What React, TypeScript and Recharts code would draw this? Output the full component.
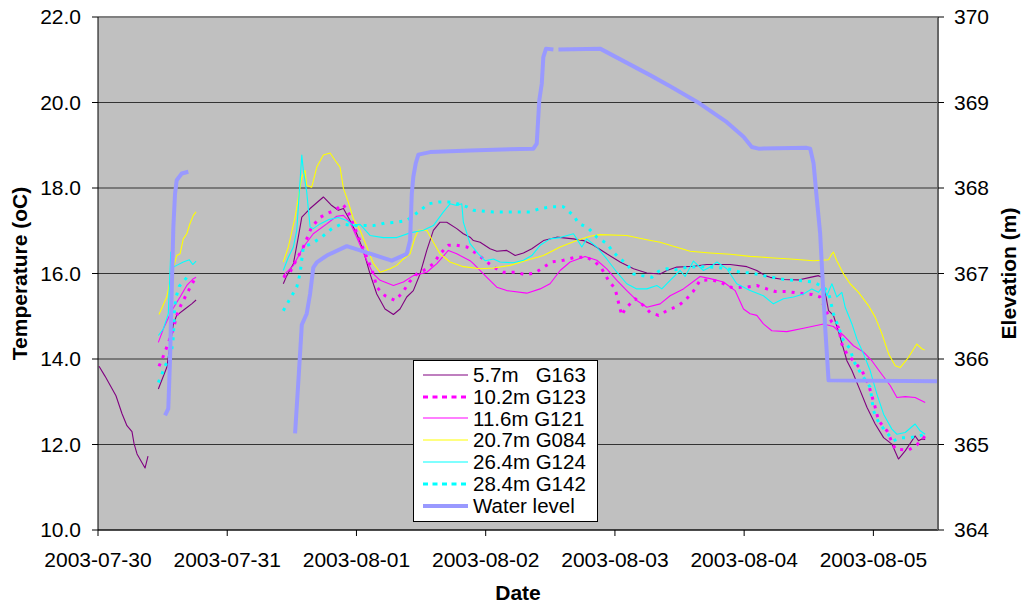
import { CartesianGrid, Legend, Line, LineChart, ReferenceLine, XAxis, YAxis } from "recharts";

// time axis: days after 2003-07-30 00:00
const dateLabels = ["2003-07-30", "2003-07-31", "2003-08-01", "2003-08-02", "2003-08-03", "2003-08-04", "2003-08-05"];
const dayTicks = [0, 1, 2, 3, 4, 5, 6];
const tempTicks = [10, 12, 14, 16, 18, 20, 22];
const elevTicks = [364, 365, 366, 367, 368, 369, 370];

type Pt = [number, number | null];

const g163: Pt[] = [
  [0.008, 13.83], [0.054, 13.6], [0.139, 13.14], [0.186, 12.72], [0.224, 12.44], [0.263, 12.3], [0.279, 12.02],
  [0.302, 11.78], [0.364, 11.45], [0.387, 11.73], [0.42, null],
  [0.467, 13.3], [0.532, 13.8], [0.583, 14.82], [0.609, 15.02], [0.673, 15.17], [0.725, 15.29], [0.759, 15.38], [1.0, null],
  [1.434, 15.76], [1.455, 15.91], [1.512, 16.23], [1.55, 16.85], [1.577, 17.32], [1.641, 17.52], [1.744, 17.79],
  [1.809, 17.59], [1.86, 17.48], [1.899, 17.52], [1.95, 17.24], [2.002, 16.93], [2.053, 16.54], [2.105, 15.99],
  [2.157, 15.52], [2.221, 15.17], [2.286, 15.04], [2.337, 15.17], [2.389, 15.45], [2.44, 15.6], [2.492, 15.99],
  [2.544, 16.54], [2.595, 17.01], [2.647, 17.2], [2.699, 17.2], [2.776, 17.05], [2.827, 16.93], [2.879, 16.85],
  [2.905, 16.77], [2.957, 16.73], [3.034, 16.58], [3.086, 16.52], [3.163, 16.54], [3.228, 16.42], [3.292, 16.48],
  [3.357, 16.58], [3.447, 16.77], [3.55, 16.85], [3.679, 16.81], [3.756, 16.77], [3.834, 16.66], [3.937, 16.46],
  [4.04, 16.27], [4.144, 16.11], [4.247, 16.01], [4.35, 15.99], [4.402, 16.07], [4.479, 16.15], [4.608, 16.17],
  [4.711, 16.21], [4.892, 16.21], [5.021, 16.16], [5.098, 16.07], [5.162, 15.95], [5.201, 15.91], [5.304, 15.86],
  [5.42, 15.85], [5.511, 15.91], [5.575, 15.95], [5.601, 15.91], [5.627, 15.56], [5.653, 15.13], [5.691, 15.02],
  [5.743, 14.51], [5.795, 13.96], [5.834, 13.73], [5.898, 13.26], [5.95, 12.87], [6.014, 12.48], [6.079, 12.16],
  [6.143, 12.01], [6.194, 11.66], [6.246, 11.85], [6.323, 12.2], [6.349, 12.09], [6.375, 12.13], [6.401, 12.12],
];

const g123: Pt[] = [
  [0.472, 13.83], [0.513, 14.12], [0.583, 14.7], [0.609, 15.02], [0.64, 15.25], [0.691, 15.55], [0.745, 15.85], [1.0, null],
  [1.434, 15.91], [1.486, 16.03], [1.538, 16.34], [1.589, 16.62], [1.654, 17.09], [1.718, 17.31], [1.77, 17.4],
  [1.834, 17.48], [1.894, 17.62], [1.93, 17.48], [1.964, 17.24], [2.015, 16.85], [2.08, 16.38], [2.131, 15.99],
  [2.157, 15.68], [2.221, 15.48], [2.299, 15.37], [2.358, 15.56], [2.409, 15.8], [2.467, 15.99], [2.544, 16.11],
  [2.595, 16.23], [2.647, 16.46], [2.711, 16.66], [2.776, 16.66], [2.854, 16.62], [2.931, 16.46], [3.06, 16.15],
  [3.137, 16.03], [3.241, 16.03], [3.305, 15.97], [3.382, 16.01], [3.434, 16.12], [3.512, 16.27], [3.601, 16.31],
  [3.692, 16.38], [3.782, 16.38], [3.847, 16.27], [3.898, 16.11], [3.95, 15.84], [4.002, 15.64], [4.027, 15.33],
  [4.053, 15.02], [4.079, 15.17], [4.156, 15.41], [4.221, 15.25], [4.272, 15.09], [4.337, 15.02], [4.402, 15.13],
  [4.492, 15.25], [4.543, 15.37], [4.608, 15.59], [4.659, 15.84], [4.75, 15.85], [4.814, 15.8], [4.905, 15.67],
  [5.021, 15.68], [5.098, 15.72], [5.176, 15.64], [5.24, 15.58], [5.33, 15.58], [5.42, 15.54], [5.524, 15.51],
  [5.588, 15.45], [5.64, 15.09], [5.679, 14.86], [5.73, 14.74], [5.756, 14.35], [5.795, 14.12], [5.846, 13.96],
  [5.911, 13.73], [5.962, 13.41], [6.014, 12.87], [6.04, 12.56], [6.105, 12.32], [6.169, 11.89], [6.272, 11.87],
  [6.336, 11.99], [6.401, 12.2],
];

const g121: Pt[] = [
  [0.467, 14.39], [0.505, 14.7], [0.57, 15.13], [0.635, 15.45], [0.687, 15.72], [0.738, 15.88], [0.759, 15.91], [1.0, null],
  [1.434, 15.95], [1.512, 16.19], [1.589, 16.62], [1.666, 16.93], [1.77, 17.16], [1.847, 17.34], [1.899, 17.36],
  [1.95, 17.2], [2.002, 16.85], [2.08, 16.3], [2.131, 15.99], [2.183, 15.84], [2.286, 15.72], [2.363, 15.8],
  [2.44, 15.95], [2.544, 16.03], [2.622, 16.23], [2.711, 16.54], [2.776, 16.46], [2.879, 16.3], [2.905, 16.23],
  [3.009, 15.91], [3.086, 15.68], [3.163, 15.6], [3.318, 15.54], [3.421, 15.64], [3.498, 15.76], [3.576, 16.07],
  [3.653, 16.27], [3.769, 16.4], [3.86, 16.31], [3.937, 16.11], [4.015, 15.84], [4.092, 15.6], [4.169, 15.37],
  [4.247, 15.21], [4.35, 15.29], [4.427, 15.48], [4.53, 15.64], [4.659, 15.93], [4.737, 15.88], [4.84, 15.8],
  [4.93, 15.6], [4.995, 15.17], [5.046, 15.06], [5.098, 15.02], [5.149, 14.82], [5.214, 14.66], [5.33, 14.64],
  [5.459, 14.72], [5.614, 14.82], [5.691, 14.76], [5.769, 14.55], [5.846, 14.31], [5.924, 14.16], [5.988, 13.96],
  [6.053, 13.69], [6.13, 13.38], [6.182, 13.1], [6.246, 13.12], [6.323, 13.1], [6.401, 12.98],
];

const g084: Pt[] = [
  [0.472, 15.04], [0.532, 15.45], [0.563, 15.91], [0.609, 16.42], [0.635, 16.46], [0.66, 16.81], [0.687, 16.93],
  [0.712, 17.17], [0.738, 17.36], [0.759, 17.44], [1.0, null],
  [1.434, 16.27], [1.473, 16.62], [1.525, 17.32], [1.577, 18.26], [1.602, 18.41], [1.615, 18.06], [1.654, 18.02],
  [1.693, 18.49], [1.744, 18.77], [1.796, 18.82], [1.834, 18.65], [1.873, 18.49], [1.899, 17.99], [1.937, 17.67],
  [1.976, 17.28], [2.028, 17.01], [2.08, 16.62], [2.131, 16.23], [2.183, 16.03], [2.26, 16.11], [2.312, 16.19],
  [2.363, 16.34], [2.415, 16.46], [2.454, 16.85], [2.479, 17.01], [2.544, 17.01], [2.595, 16.73], [2.647, 16.46],
  [2.724, 16.27], [2.827, 16.16], [2.957, 16.11], [3.06, 16.13], [3.189, 16.19], [3.318, 16.31], [3.447, 16.42],
  [3.576, 16.62], [3.705, 16.77], [3.808, 16.87], [3.885, 16.91], [4.092, 16.89], [4.247, 16.79], [4.35, 16.73],
  [4.427, 16.66], [4.582, 16.52], [4.737, 16.48], [4.892, 16.45], [5.046, 16.4], [5.201, 16.37], [5.356, 16.34],
  [5.537, 16.3], [5.653, 16.32], [5.679, 16.46], [5.691, 16.5], [5.717, 16.3], [5.769, 15.99], [5.82, 15.76],
  [5.885, 15.56], [5.962, 15.25], [6.014, 14.98], [6.066, 14.59], [6.118, 14.12], [6.169, 13.84], [6.207, 13.8],
  [6.272, 14.04], [6.336, 14.35], [6.375, 14.24], [6.396, 14.21],
];

const g124: Pt[] = [
  [0.467, 14.55], [0.505, 14.7], [0.544, 15.06], [0.563, 16.5], [0.583, 16.15], [0.609, 16.19], [0.66, 16.27],
  [0.707, 16.32], [0.733, 16.21], [0.759, 16.29], [1.0, null],
  [1.434, 16.07], [1.473, 16.38], [1.512, 16.62], [1.538, 17.01], [1.577, 18.77], [1.589, 18.41], [1.615, 17.91],
  [1.641, 17.09], [1.666, 17.05], [1.718, 17.16], [1.783, 17.26], [1.86, 17.31], [1.925, 17.24], [1.976, 17.12],
  [2.028, 17.15], [2.105, 16.89], [2.208, 16.84], [2.312, 16.84], [2.415, 16.95], [2.518, 17.01], [2.595, 17.12],
  [2.673, 17.44], [2.724, 17.63], [2.776, 17.59], [2.815, 17.63], [2.827, 17.2], [2.879, 16.7], [2.943, 16.46],
  [2.995, 16.3], [3.06, 16.34], [3.111, 16.27], [3.214, 16.25], [3.292, 16.31], [3.357, 16.42], [3.421, 16.66],
  [3.498, 16.81], [3.576, 16.84], [3.679, 16.93], [3.705, 16.81], [3.744, 16.62], [3.782, 16.81], [3.86, 16.62],
  [3.937, 16.34], [4.015, 16.03], [4.092, 15.76], [4.169, 15.64], [4.247, 15.64], [4.324, 15.72], [4.363, 15.64],
  [4.427, 15.84], [4.505, 16.07], [4.543, 15.93], [4.608, 16.29], [4.685, 16.07], [4.737, 16.15], [4.789, 16.27],
  [4.866, 16.11], [4.943, 15.76], [5.046, 15.6], [5.149, 15.48], [5.226, 15.29], [5.304, 15.41], [5.382, 15.45],
  [5.459, 15.52], [5.524, 15.64], [5.575, 15.56], [5.614, 15.72], [5.64, 15.48], [5.679, 15.76], [5.717, 15.45],
  [5.756, 15.56], [5.782, 15.21], [5.834, 14.82], [5.872, 14.47], [5.924, 14.12], [5.975, 13.73], [6.027, 13.18],
  [6.079, 12.71], [6.143, 12.36], [6.182, 12.24], [6.246, 12.28], [6.323, 12.48], [6.362, 12.32], [6.401, 12.24],
];

const g142: Pt[] = [
  [0.467, 13.45], [0.532, 13.92], [0.57, 14.2], [0.583, 14.51], [0.591, 15.09], [0.601, 15.42], [0.629, 15.7],
  [0.699, 15.95], [0.712, 16.0], [1.0, null],
  [1.434, 15.13], [1.486, 15.41], [1.538, 15.68], [1.563, 15.99], [1.589, 16.62], [1.654, 16.7], [1.731, 16.85],
  [1.809, 17.05], [1.886, 17.16], [1.976, 17.12], [2.053, 17.12], [2.131, 17.12], [2.221, 17.18], [2.312, 17.2],
  [2.389, 17.24], [2.479, 17.44], [2.557, 17.63], [2.634, 17.67], [2.711, 17.67], [2.763, 17.65], [2.854, 17.56],
  [2.905, 17.48], [3.06, 17.44], [3.241, 17.44], [3.344, 17.44], [3.421, 17.52], [3.512, 17.56], [3.601, 17.56],
  [3.679, 17.36], [3.717, 17.18], [3.795, 17.06], [3.86, 16.85], [3.937, 16.7], [3.988, 16.5], [4.04, 16.34],
  [4.092, 16.23], [4.144, 15.99], [4.208, 15.95], [4.286, 15.91], [4.337, 16.05], [4.402, 16.11], [4.466, 16.09],
  [4.569, 16.15], [4.646, 16.16], [4.737, 16.15], [4.827, 16.13], [4.905, 16.09], [4.969, 16.03], [5.059, 16.01],
  [5.149, 15.95], [5.24, 15.9], [5.33, 15.85], [5.408, 15.84], [5.537, 15.8], [5.614, 15.68], [5.653, 15.56],
  [5.691, 15.06], [5.73, 14.74], [5.769, 14.43], [5.82, 14.24], [5.846, 13.96], [5.898, 13.69], [5.975, 13.34],
  [6.001, 12.79], [6.04, 12.52], [6.092, 12.32], [6.156, 12.09], [6.22, 12.16], [6.285, 12.16], [6.349, 12.2],
  [6.401, 12.24],
];

// elevation (m), right axis
const waterLevel: Pt[] = [
  [0.519, 365.34], [0.544, 365.42], [0.557, 365.98], [0.57, 366.76], [0.583, 367.54], [0.596, 367.93],
  [0.609, 368.09], [0.648, 368.17], [0.699, 368.19], [1.0, null],
  [1.525, 365.13], [1.553, 365.8], [1.577, 366.4], [1.615, 366.53], [1.641, 366.76], [1.666, 367.07],
  [1.693, 367.13], [1.77, 367.21], [1.925, 367.32], [2.028, 367.27], [2.273, 367.15], [2.389, 367.23],
  [2.415, 367.39], [2.428, 367.93], [2.44, 368.13], [2.459, 368.29], [2.479, 368.39], [2.57, 368.42],
  [2.879, 368.44], [3.369, 368.46], [3.395, 368.52], [3.415, 369.03], [3.434, 369.22], [3.446, 369.53],
  [3.467, 369.63], [3.524, 369.62], [3.54, null], [3.563, 369.62], [3.885, 369.63], [4.272, 369.32],
  [4.427, 369.19], [4.634, 369.01], [4.866, 368.77], [4.995, 368.6], [5.059, 368.48], [5.111, 368.46],
  [5.485, 368.47], [5.511, 368.46], [5.537, 368.29], [5.563, 367.86], [5.588, 367.47], [5.627, 366.37],
  [5.653, 365.75], [6.5, 365.74],
];

const series = [
  { key: "g163", name: "5.7m   G163", pts: g163, color: "#800080", width: 1.1, dash: undefined, legendDash: undefined, axis: "left" },
  { key: "g123", name: "10.2m G123", pts: g123, color: "#FF00FF", width: 3, dash: "3 6", legendDash: "5 4.5", axis: "left" },
  { key: "g121", name: "11.6m G121", pts: g121, color: "#FF00FF", width: 1.1, dash: undefined, legendDash: undefined, axis: "left" },
  { key: "g084", name: "20.7m G084", pts: g084, color: "#FFFF00", width: 1.1, dash: undefined, legendDash: undefined, axis: "left" },
  { key: "g124", name: "26.4m G124", pts: g124, color: "#00FFFF", width: 1.1, dash: undefined, legendDash: undefined, axis: "left" },
  { key: "g142", name: "28.4m G142", pts: g142, color: "#00FFFF", width: 3, dash: "3 6", legendDash: "5 4.5", axis: "left" },
  { key: "water", name: "Water level", pts: waterLevel, color: "#9999FF", width: 4, dash: undefined, legendDash: undefined, axis: "right" },
];

const font = "'Liberation Sans', Arial, sans-serif";
const tickStyle = { fontSize: 21, fill: "#000", fontFamily: font };
const titleStyle = { fontSize: 21, fontWeight: "bold", fill: "#000", fontFamily: font };

function LegendBox() {
  return (
    <div
      style={{
        width: 185,
        height: 162,
        boxSizing: "border-box",
        border: "1px solid #000",
        background: "#fff",
        paddingTop: 3,
        fontFamily: font,
      }}
    >
      {series.map((s) => (
        <div key={s.key} style={{ display: "flex", alignItems: "center", height: 21.8 }}>
          <svg width={59} height={8} style={{ flex: "none" }}>
            <line x1={9} x2={54} y1={4} y2={4} stroke={s.color} strokeWidth={s.width} strokeDasharray={s.legendDash} />
          </svg>
          <span style={{ whiteSpace: "pre", fontSize: 20.5, lineHeight: "21.8px", color: "#000" }}>{s.name}</span>
        </div>
      ))}
    </div>
  );
}

export default function App() {
  return (
    <div style={{ position: "absolute", left: 0, top: 0, width: 1021, height: 604, background: "#fff", fontFamily: font }}>
      <LineChart width={1021} height={604} margin={{ top: 17, right: 0, bottom: 0, left: 0 }}>
        <CartesianGrid yAxisId="left" vertical={false} stroke="#333" fill="#C0C0C0" fillOpacity={1} />
        <XAxis
          type="number"
          dataKey="t"
          domain={[0, 6.5]}
          ticks={dayTicks}
          interval={0}
          allowDataOverflow
          tickFormatter={(d: number) => dateLabels[d]}
          tick={tickStyle}
          tickSize={6}
          tickMargin={16}
          height={74}
          axisLine={{ stroke: "#000" }}
          tickLine={{ stroke: "#000" }}
          label={{ value: "Date", position: "insideBottom", offset: 4, style: titleStyle }}
        />
        <YAxis
          yAxisId="left"
          domain={[10, 22]}
          ticks={tempTicks}
          interval={0}
          allowDataOverflow
          tickFormatter={(v: number) => v.toFixed(1)}
          tick={tickStyle}
          tickSize={6}
          tickMargin={11}
          width={98}
          axisLine={{ stroke: "#000" }}
          tickLine={{ stroke: "#000" }}
          label={{
            value: "Temperature (oC)",
            angle: -90,
            position: "insideLeft",
            offset: 20,
            style: { ...titleStyle, textAnchor: "middle" },
          }}
        />
        <YAxis
          yAxisId="right"
          orientation="right"
          domain={[364, 370]}
          ticks={elevTicks}
          interval={0}
          allowDataOverflow
          tick={tickStyle}
          tickSize={6}
          tickMargin={10}
          width={83}
          axisLine={{ stroke: "#666", strokeWidth: 2 }}
          tickLine={{ stroke: "#000" }}
          label={{
            value: "Elevation (m)",
            angle: -90,
            position: "insideRight",
            offset: 12,
            style: { ...titleStyle, textAnchor: "middle" },
          }}
        />
        <ReferenceLine yAxisId="left" y={22} stroke="#808080" strokeWidth={2} />
        {series.map((s) => (
          <Line
            key={s.key}
            yAxisId={s.axis}
            data={s.pts.map(([t, v]) => ({ t, v }))}
            dataKey="v"
            name={s.name}
            type="linear"
            stroke={s.color}
            strokeWidth={s.width}
            strokeDasharray={s.dash}
            strokeLinejoin="round"
            dot={false}
            activeDot={false}
            connectNulls={false}
            isAnimationActive={false}
          />
        ))}
        <Legend
          layout="horizontal"
          verticalAlign="middle"
          align="center"
          content={() => <LegendBox />}
          wrapperStyle={{ left: 413, top: 360, width: 185, height: 162 }}
        />
      </LineChart>
    </div>
  );
}
